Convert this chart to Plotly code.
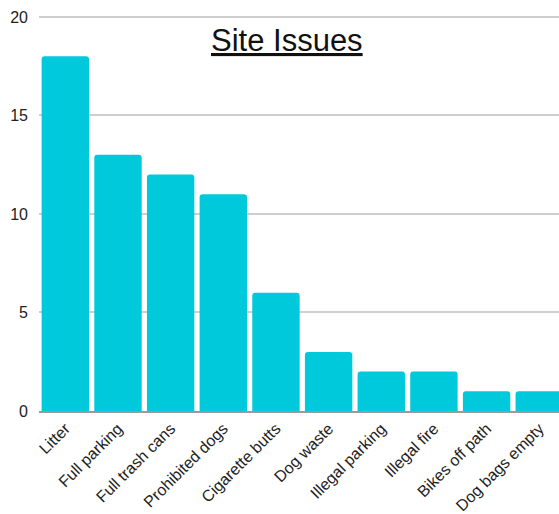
import plotly.graph_objects as go

# Site issue counts
categories = ["Litter", "Full parking", "Full trash cans", "Prohibited dogs",
              "Cigarette butts", "Dog waste", "Illegal parking", "Illegal fire",
              "Bikes off path", "Dog bags empty"]
counts = [18, 13, 12, 11, 6, 3, 2, 2, 1, 1]
y_ticks = [0, 5, 10, 15, 20]

W, H = 559, 514
FONT = "Liberation Sans, Arial, sans-serif"
Y_TOP = 20.2  # headroom above 20 so the top gridline is drawn
M_T, M_B, M_L = 13, 100, 39

fig = go.Figure(
    go.Bar(
        x=list(range(len(categories))),
        y=counts,
        marker=dict(color="#00C9DB", cornerradius=3, line=dict(width=0)),
        hoverinfo="x+y",
    )
)

fig.update_layout(
    width=W,
    height=H,
    margin=dict(l=M_L, r=0, t=M_T, b=M_B),
    paper_bgcolor="white",
    plot_bgcolor="white",
    bargap=0.1,
    showlegend=False,
    font=dict(family=FONT, color="#222222"),
    annotations=[
        dict(
            text="<u>Site Issues</u>",
            xref="paper", yref="paper",
            x=(287 - M_L) / (W - M_L), y=1 - (41 - M_T) / (H - M_T - M_B),
            xanchor="center", yanchor="middle",
            showarrow=False,
            font=dict(family=FONT, size=31, color="#111111"),
        )
    ],
)

fig.update_xaxes(
    tickmode="array",
    tickvals=list(range(len(categories))),
    ticktext=categories,
    tickangle=-45,
    tickfont=dict(size=16, family=FONT, color="#222222"),
    range=[-0.5, 9.375],
    showgrid=False,
    showline=True,
    linecolor="#9a9a9a",
    linewidth=2,
    ticks="",
    zeroline=False,
)

fig.update_yaxes(
    range=[0, Y_TOP],
    tickmode="array",
    tickvals=y_ticks,
    tickfont=dict(size=16, family=FONT, color="#222222"),
    showgrid=True,
    gridcolor="#cfcfcf",
    gridwidth=1.5,
    zeroline=False,
    showline=False,
    ticklabelstandoff=10,
)

fig.write_html("out.html")
